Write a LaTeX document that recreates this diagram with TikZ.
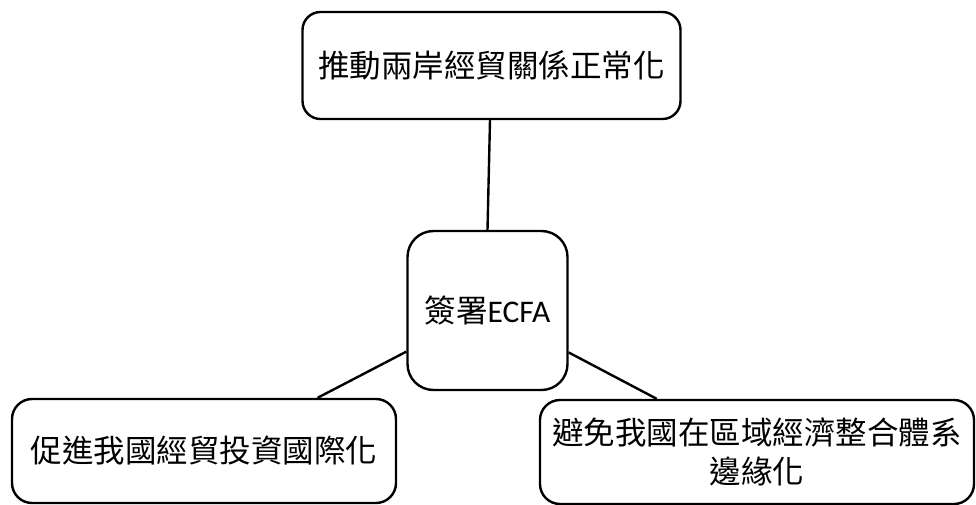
\documentclass[tikz,border=0pt]{standalone}
\usepackage{fontspec}
\setmainfont{Carlito}
\newfontfamily\cjk{Noto Sans CJK TC}
\usetikzlibrary{calc}
\begin{document}
\begin{tikzpicture}[x=1pt,y=-1pt,
  box/.style={draw=black,line width=2.4pt,rounded corners=#1,inner sep=0pt,align=center,
    font=\cjk\fontsize{31.5}{39}\selectfont},
  box/.default=18pt,
  link/.style={draw=black,line width=2.4pt}]
\useasboundingbox (0,0) rectangle (976,505);
\node[box=18pt,minimum width=378pt,minimum height=107pt] (top) at (491.5,65.5) {推動兩岸經貿關係正常化};
\node[box=26pt,minimum width=160pt,minimum height=159pt] (ctr) at (487.5,310.5) {簽署{\fontspec{Carlito}ECFA}};
\node[box=20pt,minimum width=384pt,minimum height=104pt] (bl) at (204,451) {促進我國經貿投資國際化};
\node[box=20pt,minimum width=434pt,minimum height=104pt] (br) at (757,452) {避免我國在區域經濟整合體系\\邊緣化};
\draw[link] ($(top.south)+(-1.5,0)$) -- (ctr.north);
\draw[link] ($(ctr.south west)!0.245!(ctr.north west)$) -- ($(bl.north west)!0.794!(bl.north east)$);
\draw[link] ($(ctr.south east)!0.24!(ctr.north east)$) -- ($(br.north west)!0.27!(br.north east)$);
\end{tikzpicture}
\end{document}
